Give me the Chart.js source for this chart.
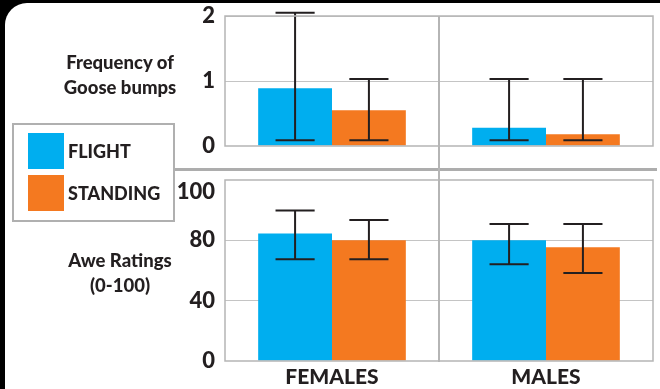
<!DOCTYPE html>
<html>
<head>
<meta charset="utf-8">
<script src="https://cdn.jsdelivr.net/npm/chart.js@4"></script>
<style>
  html, body { margin: 0; padding: 0; }
  body { width: 660px; height: 389px; background: #000; position: relative; overflow: hidden; font-family: Lato, sans-serif; color: #231f20; }
  .panel { position: absolute; left: 5px; top: 3px; width: 670px; height: 400px; background: #fff; border-top-left-radius: 22px; }
  canvas { position: absolute; left: 0; }
  #goose { top: 0; }
  #awe { top: 160px; }
  .title { position: absolute; width: 150px; left: 45px; text-align: center; font-weight: 900; font-size: 18.5px; line-height: 25px; }
  .hline { position: absolute; left: 174px; top: 168px; width: 483px; height: 3px; background: #adadad; }
  .vline { position: absolute; left: 438px; top: 16px; width: 2px; height: 346px; background: #b5b5b5; }
  .legend { position: absolute; left: 12px; top: 123px; width: 163px; height: 99px; box-sizing: border-box; border: 2px solid #b0b0b0; background: #fff; }
  .item { position: absolute; left: 14px; height: 36px; display: flex; align-items: center; font-weight: 900; font-size: 18px; }
  .sw { width: 36px; height: 36px; margin-right: 4px; }
</style>
</head>
<body>
<div class="panel"></div>
<div class="hline"></div>
<canvas id="goose" width="660" height="160"></canvas>
<canvas id="awe" width="660" height="229"></canvas>
<div class="vline"></div>
<div class="title" style="top:50px">Frequency of<br>Goose bumps</div>
<div class="title" style="top:248px">Awe Ratings<br>(0-100)</div>
<div class="legend">
  <div class="item" style="top:8px"><div class="sw" style="background:#00aeef"></div>FLIGHT</div>
  <div class="item" style="top:50px"><div class="sw" style="background:#f47920"></div>STANDING</div>
</div>
<script>
const groups = ['FEMALES', 'MALES']
const seriesNames = ['FLIGHT', 'STANDING']
const seriesColors = ['#00aeef', '#f47920']

// frequency of goose bumps
const gooseFlight = [0.89, 0.28]
const gooseFlightLow = [0.09, 0.09]
const gooseFlightHigh = [2.05, 1.03]
const gooseStanding = [0.55, 0.18]
const gooseStandingLow = [0.09, 0.09]
const gooseStandingHigh = [1.03, 1.03]
const gooseTickValues = [0, 1, 2]
const gooseTickLabels = ['0', '1', '2']

// awe ratings
const aweFlight = [84.6, 80]
const aweFlightLow = [67.4, 64.1]
const aweFlightHigh = [99.8, 90.8]
const aweStanding = [80, 75.4]
const aweStandingLow = [67.4, 58.4]
const aweStandingHigh = [93.4, 90.8]
const aweTickValues = [0, 40, 80, 112]
const aweTickLabels = ['0', '40', '80', '100']

Chart.defaults.font.family = 'Lato'
Chart.defaults.font.weight = 900
Chart.defaults.color = '#231f20'

const frame = {
  id: 'frame',
  afterDraw(chart) {
    const { ctx, chartArea: a } = chart
    ctx.save()
    ctx.strokeStyle = '#b5b5b5'
    ctx.lineWidth = 1.5
    ctx.strokeRect(a.left, a.top, a.right - a.left, a.bottom - a.top)
    ctx.restore()
  },
}

const errorBars = {
  id: 'errorBars',
  afterDatasetsDraw(chart) {
    const { ctx } = chart
    const y = chart.scales.y
    ctx.save()
    ctx.strokeStyle = '#231f20'
    ctx.lineWidth = 2
    chart.data.datasets.forEach((ds, i) => {
      chart.getDatasetMeta(i).data.forEach((bar, j) => {
        const top = y.getPixelForValue(ds.errHigh[j])
        const bottom = y.getPixelForValue(ds.errLow[j])
        const half = bar.width * 0.265
        ctx.beginPath()
        ctx.moveTo(bar.x, top)
        ctx.lineTo(bar.x, bottom)
        ctx.moveTo(bar.x - half, top)
        ctx.lineTo(bar.x + half, top)
        ctx.moveTo(bar.x - half, bottom)
        ctx.lineTo(bar.x + half, bottom)
        ctx.stroke()
      })
    })
    ctx.restore()
  },
}

function makePanel(canvas, values, lows, highs, yMax, tickValues, tickLabels, showX, padding) {
  return new Chart(canvas, {
    type: 'bar',
    data: {
      labels: groups,
      datasets: seriesNames.map((name, i) => ({
        label: name,
        data: values[i],
        errLow: lows[i],
        errHigh: highs[i],
        backgroundColor: seriesColors[i],
        barPercentage: 1,
        categoryPercentage: 0.69,
      })),
    },
    options: {
      responsive: false,
      animation: false,
      layout: { padding },
      plugins: { legend: { display: false }, tooltip: { enabled: false } },
      scales: {
        x: {
          grid: { display: false, drawTicks: false },
          border: { display: false },
          ticks: { display: showX, font: { size: 21 }, padding: 4 },
          afterFit: (s) => { s.height = showX ? 28 : 0 },
        },
        y: {
          min: 0,
          max: yMax,
          afterBuildTicks: (s) => { s.ticks = tickValues.map((v) => ({ value: v })) },
          ticks: {
            font: { size: 22 },
            padding: 10,
            callback: (v) => tickLabels[tickValues.indexOf(v)],
          },
          grid: {
            drawTicks: false,
            color: (c) => (c.tick && c.tick.value > 0 && c.tick.value <= 100 ? '#c4c4c4' : 'rgba(0,0,0,0)'),
          },
          border: { display: false },
          afterFit: (s) => {
            s.width = 225
            s.paddingTop = 0
            s.paddingBottom = 0
          },
        },
      },
    },
    plugins: [frame, errorBars],
  })
}

makePanel(
  document.getElementById('goose'),
  [gooseFlight, gooseStanding],
  [gooseFlightLow, gooseStandingLow],
  [gooseFlightHigh, gooseStandingHigh],
  2, gooseTickValues, gooseTickLabels, false,
  { left: 0, right: 7, top: 16, bottom: 14 },
)

makePanel(
  document.getElementById('awe'),
  [aweFlight, aweStanding],
  [aweFlightLow, aweStandingLow],
  [aweFlightHigh, aweStandingHigh],
  120, aweTickValues, aweTickLabels, true,
  { left: 0, right: 7, top: 20, bottom: 0 },
)
</script>
</body>
</html>
